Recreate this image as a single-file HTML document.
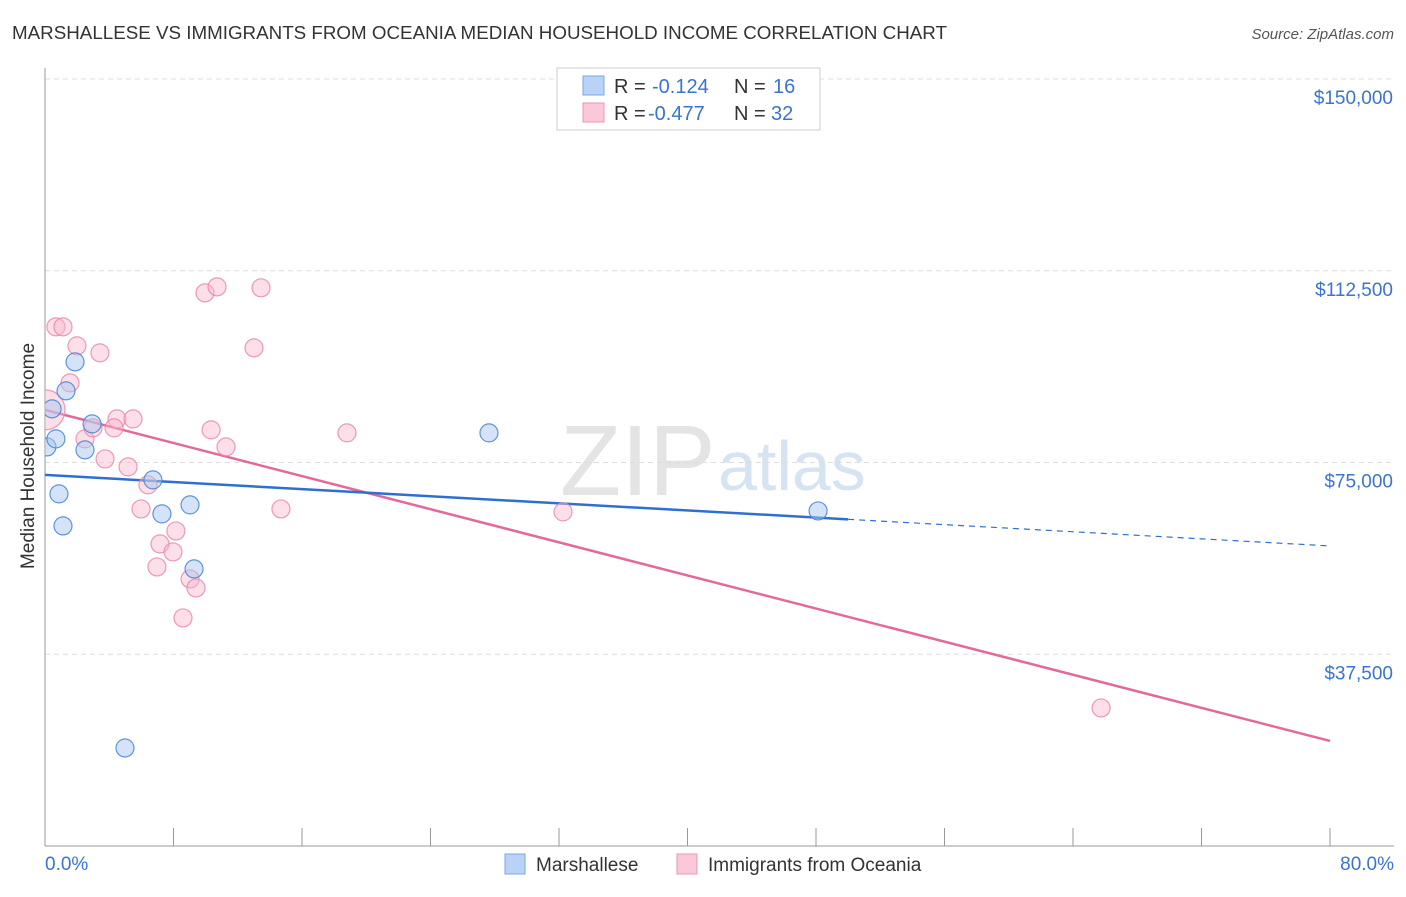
<!DOCTYPE html>
<html><head><meta charset="utf-8"><style>
body{margin:0;background:#fff;font-family:"Liberation Sans",sans-serif;}
svg text{font-family:"Liberation Sans",sans-serif;}
</style></head><body>
<svg id="chart" width="1406" height="892">
<defs><clipPath id="plotclip"><rect x="45" y="60" width="1360" height="786"/></clipPath></defs>
<text x="12" y="39" font-size="18" fill="#333" textLength="935" lengthAdjust="spacingAndGlyphs">MARSHALLESE VS IMMIGRANTS FROM OCEANIA MEDIAN HOUSEHOLD INCOME CORRELATION CHART</text>
<text x="1394" y="39" font-size="15" fill="#555" font-style="italic" text-anchor="end">Source: ZipAtlas.com</text>
<text transform="translate(34,456) rotate(-90)" font-size="19" fill="#333" text-anchor="middle">Median Household Income</text>
<text x="560" y="495" font-size="100" fill="#e4e4e4" font-family="Liberation Serif">ZIP</text>
<text x="718" y="490" font-size="70" fill="#d6e3f3">atlas</text>
<g id="grid"></g><g id="axes"></g><g id="lines"></g><g id="pts" clip-path="url(#plotclip)"></g>
<g>
<rect x="557" y="68" width="263" height="62" fill="#fff" stroke="#ccc"/>
<rect x="583" y="76" width="21" height="19" fill="#b8d3f5" stroke="#7aa7e6"/>
<rect x="583" y="103" width="21" height="19" fill="#fbc8d7" stroke="#ec94b0"/>
<text x="614" y="93" font-size="20" fill="#333">R = </text><text x="652" y="93" font-size="20" fill="#3a74d0">-0.124</text>
<text x="734" y="93" font-size="20" fill="#333">N = </text><text x="773" y="93" font-size="20" fill="#3a74d0">16</text>
<text x="614" y="120" font-size="20" fill="#333">R = </text><text x="648" y="120" font-size="20" fill="#3a74d0">-0.477</text>
<text x="734" y="120" font-size="20" fill="#333">N = </text><text x="771" y="120" font-size="20" fill="#3a74d0">32</text>
</g>
<g>
<rect x="505" y="854" width="20" height="20" fill="#b8d3f5" stroke="#7aa7e6"/>
<text x="536" y="871" font-size="19" fill="#333">Marshallese</text>
<rect x="677" y="854" width="20" height="20" fill="#fbc8d7" stroke="#ec94b0"/>
<text x="708" y="871" font-size="19" fill="#333">Immigrants from Oceania</text>
</g>
</svg>
<script>
const yTicks=[37500,75000,112500,150000];
const yTickLabels=["$37,500","$75,000","$112,500","$150,000"];
const xTickLabels=["0.0%","80.0%"];
const blueX=[0.12,0.44,0.68,0.87,1.12,1.31,1.87,2.49,2.93,4.98,6.72,7.28,9.03,9.28,27.64,48.13];
const blueY=[78050,85490,79620,68860,62600,89010,94680,77470,82550,19170,71600,64950,66710,54190,80790,65530];
const pinkX=[0.0,0.68,1.12,1.99,1.56,2.49,2.99,3.42,3.74,4.48,5.48,4.30,5.17,6.41,5.98,7.16,6.97,7.97,8.15,8.59,9.03,9.40,9.96,10.71,10.34,11.27,13.01,13.45,14.69,18.80,32.25,65.75];
const pinkY=[85290,101530,101530,97810,90570,79620,81770,96440,75700,83530,83530,81770,74140,70620,65920,59080,54580,57510,61620,44600,52230,50470,108180,109350,81380,78050,97420,109160,65920,80790,65340,27000];
const blueTrend=[72570,58680];
const blueSolidEnd=50;
const pinkTrend=[85290,20540];
const NS="http://www.w3.org/2000/svg";
const X0=45,X1=1330,Y0=846;
function sx(v){return X0+(v/80)*(X1-X0);}
function sy(v){return Y0-(v/150000)*(Y0-79);}
function mk(tag,attrs,parent){const e=document.createElementNS(NS,tag);for(const k in attrs)e.setAttribute(k,attrs[k]);document.getElementById(parent).appendChild(e);return e;}
yTicks.forEach((t,i)=>{
 const l=mk('line',{x1:45,x2:1394,y1:sy(t),y2:sy(t),stroke:'#ddd','stroke-dasharray':'5,4'},'grid');
 
 
 const tx=mk('text',{x:1393,y:sy(t)+25,'font-size':19,fill:'#3a74d0','text-anchor':'end'},'grid');
 tx.textContent=yTickLabels[i];
 
 
});
let ax=mk('line',{x1:45,x2:45,y1:68,y2:846,stroke:'#999'},'axes');


let bx=mk('line',{x1:45,x2:1394,y1:846,y2:846,stroke:'#999'},'axes');


for(let i=0;i<=10;i++){
 const t=mk('line',{x1:sx(i*8),x2:sx(i*8),y1:828,y2:846,stroke:'#999'},'axes');
 
 
}
[[0,'start',45],[80,'end',1394]].forEach((d,i)=>{
 const t=mk('text',{x:d[2],y:870,'font-size':19,fill:'#3a74d0','text-anchor':d[1]},'axes');
 t.textContent=xTickLabels[i];
 
 
});
function yAt(tr,x){return tr[0]+(tr[1]-tr[0])*x/80;}
let pl=mk('line',{x1:sx(0),y1:sy(pinkTrend[0]),x2:sx(80),y2:sy(pinkTrend[1]),stroke:'#e2699a','stroke-width':2.5},'lines');


let bl=mk('line',{x1:sx(0),y1:sy(blueTrend[0]),x2:sx(blueSolidEnd),y2:sy(yAt(blueTrend,blueSolidEnd)),stroke:'#2f6fd0','stroke-width':2.5},'lines');


let bd=mk('line',{x1:sx(blueSolidEnd),y1:sy(yAt(blueTrend,blueSolidEnd)),x2:sx(80),y2:sy(blueTrend[1]),stroke:'#2f6fd0','stroke-width':1.2,'stroke-dasharray':'6,5'},'lines');


pinkX.forEach((x,i)=>{
 const c=mk('circle',{cx:sx(x),cy:sy(pinkY[i]),r:i===0?20:9,fill:'rgba(248,184,204,0.45)',stroke:'rgba(232,130,165,0.8)','stroke-width':1.2},'pts');
 
 
});
blueX.forEach((x,i)=>{
 const c=mk('circle',{cx:sx(x),cy:sy(blueY[i]),r:9,fill:'rgba(170,200,240,0.5)',stroke:'rgba(70,130,215,0.85)','stroke-width':1.2},'pts');
 
 
});
</script>
</body></html>
